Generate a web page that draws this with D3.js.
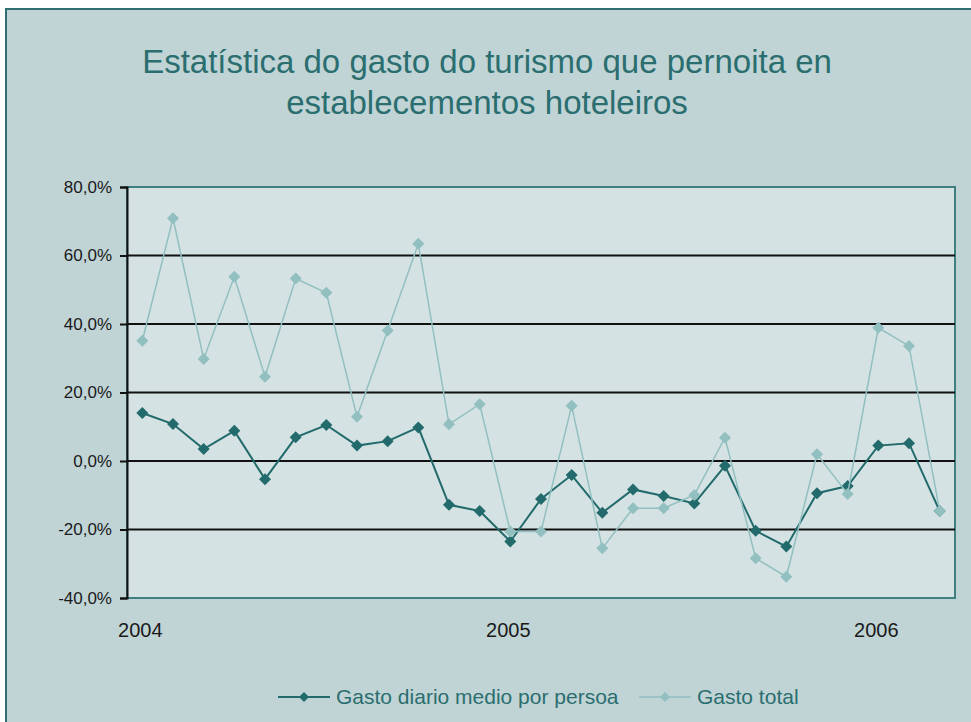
<!DOCTYPE html>
<html>
<head>
<meta charset="utf-8">
<script src="https://cdn.jsdelivr.net/npm/d3@7"></script>
<style>
  body { margin: 0; background: #fff; }
  svg { display: block; font-family: "Liberation Sans", Arial, sans-serif; }
</style>
</head>
<body>
<svg id="chart"></svg>
<script>
var months = [
    "2004-01", "2004-02", "2004-03", "2004-04", "2004-05", "2004-06", "2004-07", "2004-08", "2004-09",
    "2004-10", "2004-11", "2004-12", "2005-01", "2005-02", "2005-03", "2005-04", "2005-05", "2005-06",
    "2005-07", "2005-08", "2005-09", "2005-10", "2005-11", "2005-12", "2006-01", "2006-02", "2006-03"
];
// % variation
var gastoDiario = [14.0, 10.8, 3.5, 8.8, -5.3, 6.9, 10.5, 4.5, 5.8, 9.8, -12.8, -14.6, -23.5, -11.1,
    -4.1, -15.1, -8.3, -10.2, -12.4, -1.4, -20.4, -25.0, -9.4, -7.3, 4.5, 5.2, -14.6];
var gastoTotal = [35.1, 70.9, 29.8, 53.8, 24.6, 53.3, 49.1, 12.9, 38.1, 63.4, 10.7, 16.6, -20.6, -20.6,
    16.1, -25.5, -13.8, -13.8, -9.9, 6.8, -28.4, -33.8, 2.0, -9.6, 38.9, 33.6, -14.6];
var yTicks = [-40, -20, 0, 20, 40, 60, 80];
var xLabels = [{ month: "2004-01", label: "2004" }, { month: "2005-01", label: "2005" }, { month: "2006-01", label: "2006" }];
var seriesNames = ["Gasto diario medio por persoa", "Gasto total"];

var width = 971;
var height = 722;
var teal = "#2b6e6f";

var svg = d3.select("#chart").attr("width", width).attr("height", height);

// chart frame
svg.append("rect")
    .attr("x", 6).attr("y", 9)
    .attr("width", width).attr("height", height)
    .attr("fill", "#c0d4d6")
    .attr("stroke", "#2f6f73").attr("stroke-width", 2);

// title
var title = svg.append("text")
    .attr("text-anchor", "middle")
    .attr("fill", teal)
    .attr("font-size", 33);
title.append("tspan").attr("x", 487).attr("y", 73).text("Estatística do gasto do turismo que pernoita en");
title.append("tspan").attr("x", 487).attr("y", 114).text("establecementos hoteleiros");

var plot = { left: 127, right: 955, top: 187, bottom: 598 };

var x = d3.scalePoint().domain(months).range([plot.left, plot.right]).padding(0.5);
var y = d3.scaleLinear().domain([-40, 80]).range([plot.bottom, plot.top]);

svg.append("rect")
    .attr("x", plot.left).attr("y", plot.top)
    .attr("width", plot.right - plot.left).attr("height", plot.bottom - plot.top)
    .attr("fill", "#d4e2e3")
    .attr("stroke", "#3f7f80").attr("stroke-width", 2);

// gridlines
svg.append("g")
    .selectAll("line")
    .data(yTicks.filter(function (d) { return d > -40 && d < 80; }))
    .enter()
    .append("line")
    .attr("x1", plot.left).attr("x2", plot.right)
    .attr("y1", function (d) { return y(d); })
    .attr("y2", function (d) { return y(d); })
    .attr("stroke", "#111").attr("stroke-width", 2);

// y axis
var yAxis = svg.append("g")
    .attr("transform", "translate(" + plot.left + ",0)")
    .call(d3.axisLeft(y).tickValues(yTicks).tickSize(7).tickPadding(8)
        .tickFormat(function (d) { return d3.format(".1f")(d).replace(".", ",").replace("−", "-") + "%"; }));
yAxis.select(".domain").attr("stroke", "#111").attr("stroke-width", 2);
yAxis.selectAll(".tick line").attr("stroke", "#111").attr("stroke-width", 2);
yAxis.selectAll("text").attr("font-size", 17).attr("fill", "#1a1a1a").attr("font-family", "Liberation Sans, Arial, sans-serif");

// x labels
svg.append("g")
    .selectAll("text")
    .data(xLabels)
    .enter()
    .append("text")
    .attr("x", function (d) { return x(d.month) - 2; })
    .attr("y", 637)
    .attr("text-anchor", "middle")
    .attr("font-size", 20)
    .attr("fill", "#1a1a1a")
    .text(function (d) { return d.label; });

// Excel-style diamond: a square turned 45 degrees
var diamond = d3.symbol().type(d3.symbolSquare).size(72);

function drawSeries(values, color, lineWidth) {
    var line = d3.line()
        .x(function (d, i) { return x(months[i]); })
        .y(function (d) { return y(d); });
    svg.append("path")
        .datum(values)
        .attr("d", line)
        .attr("fill", "none")
        .attr("stroke", color)
        .attr("stroke-width", lineWidth);
    svg.append("g")
        .selectAll("path")
        .data(values)
        .enter()
        .append("path")
        .attr("d", diamond)
        .attr("transform", function (d, i) { return "translate(" + x(months[i]) + "," + y(d) + ") rotate(45)"; })
        .attr("fill", color);
}

drawSeries(gastoDiario, "#226a6b", 2);
drawSeries(gastoTotal, "#92bfc0", 1.5);

// legend
var legendItems = [
    { name: seriesNames[0], color: "#226a6b", w: 2, x0: 278 },
    { name: seriesNames[1], color: "#92bfc0", w: 1.5, x0: 639 }
];
var legend = svg.append("g").selectAll("g").data(legendItems).enter().append("g")
    .attr("transform", function (d) { return "translate(" + d.x0 + ",697)"; });
legend.append("line")
    .attr("x1", 0).attr("x2", 52)
    .attr("stroke", function (d) { return d.color; })
    .attr("stroke-width", function (d) { return d.w; });
legend.append("path")
    .attr("d", d3.symbol().type(d3.symbolSquare).size(50))
    .attr("transform", "translate(26,0) rotate(45)")
    .attr("fill", function (d) { return d.color; });
legend.append("text")
    .attr("x", 58).attr("y", 7)
    .attr("font-size", 21)
    .attr("fill", teal)
    .text(function (d) { return d.name; });
</script>
</body>
</html>
